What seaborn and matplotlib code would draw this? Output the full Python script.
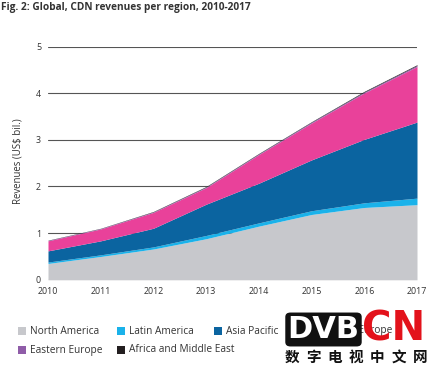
import matplotlib
matplotlib.use("Agg")
import matplotlib.pyplot as plt
import seaborn as sns
from matplotlib.patches import Rectangle, FancyBboxPatch

years = [2010, 2011, 2012, 2013, 2014, 2015, 2016, 2017]
north_america = [0.35, 0.50, 0.66, 0.88, 1.15, 1.40, 1.55, 1.61]
latin_america = [0.03, 0.035, 0.045, 0.07, 0.07, 0.08, 0.10, 0.14]
asia_pacific = [0.24, 0.30, 0.40, 0.67, 0.85, 1.09, 1.36, 1.63]
western_europe = [0.215, 0.255, 0.34, 0.355, 0.615, 0.79, 0.995, 1.19]
eastern_europe = [0.01, 0.01, 0.012, 0.015, 0.015, 0.02, 0.02, 0.025]
africa_me = [0.005, 0.005, 0.008, 0.01, 0.01, 0.01, 0.015, 0.015]

labels = ["North America", "Latin America", "Asia Pacific", "Western Europe",
          "Eastern Europe", "Africa and Middle East"]
colors = ["#c7c8cc", "#1ab2ea", "#0b64a0", "#e9419a", "#8f5ca8", "#231f20"]
logo_chars = list("数字电视中文网")

sns.set_theme(style="white")
plt.rcParams['font.family'] = ['Open Sans', 'DejaVu Sans']

W, H = 429, 367
fig = plt.figure(figsize=(W / 100, H / 100), dpi=100)
y0, y5 = 279.8, 46.5
ax = fig.add_axes([48 / W, (H - y0) / H, 369 / W, (y0 - y5) / H])
ax.stackplot(years, north_america, latin_america, asia_pacific, western_europe,
             eastern_europe, africa_me, colors=colors, labels=labels, linewidth=0)
ax.set_xlim(2010, 2017)
ax.set_ylim(0, 5)
ax.set_xticks(years)
ax.set_yticks(range(6))
ax.grid(axis='y', color='#555555', lw=0.8)
ax.grid(axis='x', visible=False)
ax.set_axisbelow(True)
ax.set_facecolor('white')
for s in ax.spines.values():
    s.set_visible(False)
ax.tick_params(axis='both', length=0, labelsize=6.4, colors='#333333')
ax.tick_params(axis='y', pad=5)
ax.tick_params(axis='x', pad=5)

fig.text(18 / W, 1 - 161 / H, "Revenues (US$ bil.)", rotation=90, ha='center',
         va='center', fontsize=6.9, color='#333333')
fig.text(1 / W, 1 - 7.5 / H, "Fig. 2: Global, CDN revenues per region, 2010-2017",
         fontsize=7.3, fontweight='bold', color='#333333', va='center', ha='left')

# legend
col_x = [18, 117, 214, 304]
row_y = [331, 350]
for i, (lab, c) in enumerate(zip(labels, colors)):
    r, k = divmod(i, 4)
    x, y = col_x[k], row_y[r]
    fig.patches.append(Rectangle((x / W, 1 - (y + 4) / H), 8 / W, 8 / H,
                                 transform=fig.transFigure, facecolor=c,
                                 edgecolor='none'))
    fig.text((x + 12) / W, 1 - y / H, lab, fontsize=7.3, color='#333333',
             va='center', ha='left')

# watermark logo
fig.patches.append(FancyBboxPatch((287 / W, 1 - 345 / H), 73 / W, 31 / H,
                                  boxstyle="round,pad=0.004,rounding_size=0.012",
                                  transform=fig.transFigure, facecolor='#111111',
                                  edgecolor='none', zorder=5))
fig.text(323.5 / W, 1 - 330 / H, "DVB", fontsize=22, fontweight='bold', color='white',
         ha='center', va='center', family=['DejaVu Sans'], zorder=6)
fig.text(394 / W, 1 - 329.5 / H, "CN", fontsize=29, fontweight='bold', color='#e3121b',
         ha='center', va='center', family=['DejaVu Sans'], zorder=6)
for j, ch in enumerate(logo_chars):
    fig.text((292 + j * 21.3) / W, 1 - 357 / H, ch, fontsize=10.5, fontweight='bold',
             color='#111111', ha='center', va='center',
             family=['Noto Sans CJK SC', 'DejaVu Sans'], zorder=6)

fig.savefig("out.png", dpi=100, facecolor='white')
